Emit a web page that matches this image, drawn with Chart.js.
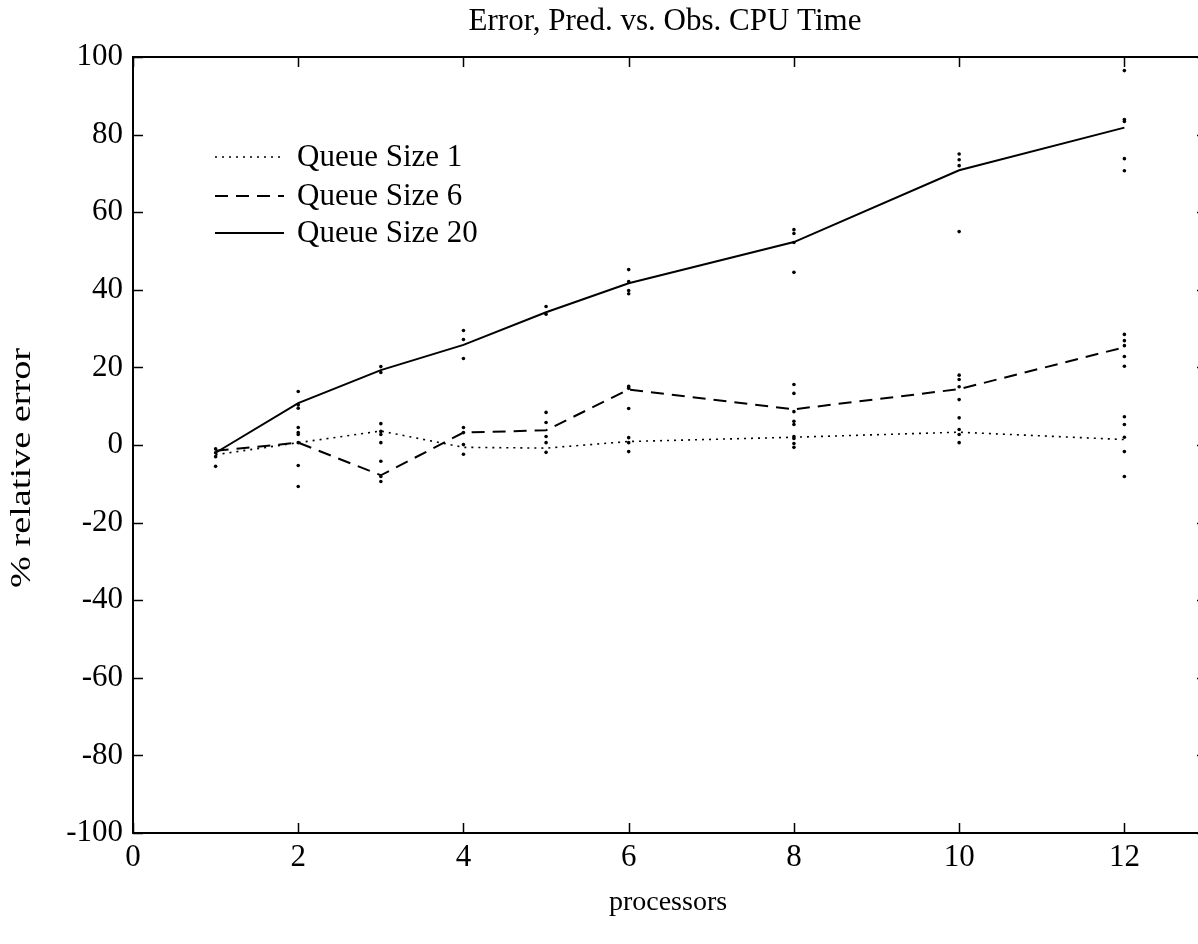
<!DOCTYPE html>
<html>
<head>
<meta charset="utf-8">
<script src="https://cdn.jsdelivr.net/npm/chart.js@4"></script>
<style>
html,body{margin:0;padding:0;background:#fff;overflow:hidden;}
#wrap{width:1220px;height:944px;position:relative;}
</style>
</head>
<body>
<div id="wrap"><canvas id="c" width="1220" height="944"></canvas></div>
<script>
const titleText = 'Error, Pred. vs. Obs. CPU Time';
const xTitle = 'processors';
const yTitle = '% relative error';
const processors = [1, 2, 3, 4, 5, 6, 8, 10, 12];
const queue1 = [-2.5, 0.6, 3.6, -0.6, -0.8, 0.9, 2.0, 3.3, 1.4];
const queue6 = [-1.5, 0.6, -7.8, 3.2, 3.8, 14.3, 9.2, 14.4, 25.2];
const queue20 = [-2.0, 10.8, 19.3, 25.8, 34.2, 41.7, 52.3, 70.8, 81.8];
const seriesLabels = ['Queue Size 1', 'Queue Size 6', 'Queue Size 20'];
const obsProc = [
  1,1,1,1,
  2,2,2,2,2,2,2,2,2,
  3,3,3,3,3,3,3,3,3,
  4,4,4,4,4,4,4,
  5,5,5,5,5,5,5,
  6,6,6,6,6,6,6,6,6,6,
  8,8,8,8,8,8,8,8,8,8,8,8,8,
  10,10,10,10,10,10,10,10,10,10,10,10,
  12,12,12,12,12,12,12,12,12,12,12,12,12,12,12
];
const obsErr = [
  -1, -2, -3, -5.5,
  13.8, 10.4, 9.5, 4.5, 3.2, 2.7, 0.6, -5.3, -10.7,
  20.2, 18.7, 5.5, 3.5, 2.7, 0.6, -4.2, -8.1, -9.4,
  29.5, 27.2, 22.3, 4.5, 3.2, 0.1, -2.4,
  35.7, 33.7, 8.4, 5.8, 2.2, 0.6, -1.9,
  45.2, 42.1, 39.8, 39, 15.1, 14.6, 9.4, 1.9, 0.6, -1.7,
  55.5, 54.5, 52.2, 44.5, 15.6, 13.3, 8.6, 6.1, 5.3, 2.2, 1.7, 0.4, -0.6,
  75, 73.5, 72, 55, 18, 16.9, 15, 11.7, 7, 4, 2.7, 0.6,
  96.5, 83.9, 83.4, 73.8, 70.7, 28.5, 26.9, 25.6, 22.8, 20.3, 7.3, 5.3, 2, -1.7, -8.1
];
const xTicks = [0, 2, 4, 6, 8, 10, 12];
const yTicks = [-100, -80, -60, -40, -20, 0, 20, 40, 60, 80, 100];
const xMin = 0, xMax = 13, yMin = -100, yMax = 100;

const FONT = "'Liberation Serif', 'Times New Roman', serif";

const toXY = (xs, ys) => xs.map((x, i) => ({x: x, y: ys[i]}));

const framePlugin = {
  id: 'frame',
  afterDraw(chart) {
    const ctx = chart.ctx;
    const a = chart.chartArea;
    const xs = chart.scales.x, ys = chart.scales.y;
    ctx.save();
    ctx.strokeStyle = '#000';
    ctx.lineWidth = 2;
    ctx.strokeRect(a.left, a.top, a.right - a.left, a.bottom - a.top);
    ctx.lineWidth = 1.5;
    const tl = 10;
    xTicks.forEach(v => {
      const px = Math.round(xs.getPixelForValue(v)) + 0.5;
      ctx.beginPath();
      ctx.moveTo(px, a.bottom); ctx.lineTo(px, a.bottom - tl);
      ctx.moveTo(px, a.top); ctx.lineTo(px, a.top + tl);
      ctx.stroke();
    });
    yTicks.forEach(v => {
      const py = Math.round(ys.getPixelForValue(v)) + 0.5;
      ctx.beginPath();
      ctx.moveTo(a.left, py); ctx.lineTo(a.left + tl, py);
      ctx.moveTo(a.right, py); ctx.lineTo(a.right - tl, py);
      ctx.stroke();
    });
    // titles
    ctx.fillStyle = '#000';
    ctx.textAlign = 'center';
    ctx.textBaseline = 'middle';
    ctx.font = '31px ' + FONT;
    ctx.fillText(titleText, 665, 22);
    ctx.font = '28px ' + FONT;
    ctx.fillText(xTitle, 668, 903);
    ctx.save();
    ctx.font = '30px ' + FONT;
    const w = ctx.measureText(yTitle).width;
    ctx.translate(22, 468);
    ctx.rotate(-Math.PI / 2);
    ctx.scale(Math.max(1, 240 / w), 1);
    ctx.fillText(yTitle, 0, 0);
    ctx.restore();
    // legend
    const legY = [157, 196, 233];
    ctx.textAlign = 'left';
    ctx.font = '31px ' + FONT;
    for (let i = 0; i < 3; i++) {
      const ds = chart.data.datasets[i];
      ctx.save();
      ctx.strokeStyle = '#000';
      ctx.lineWidth = ds.borderWidth;
      ctx.setLineDash(ds.borderDash || []);
      ctx.beginPath();
      ctx.moveTo(215, legY[i]); ctx.lineTo(284, legY[i]);
      ctx.stroke();
      ctx.restore();
      ctx.fillText(ds.label, 297, legY[i] + 1);
    }
    ctx.restore();
  }
};

new Chart(document.getElementById('c'), {
  type: 'scatter',
  data: {
    datasets: [
      {label: seriesLabels[0], data: toXY(processors, queue1), showLine: true, borderColor: '#000', borderWidth: 1.6, borderDash: [2, 5], pointRadius: 0, fill: false},
      {label: seriesLabels[1], data: toXY(processors, queue6), showLine: true, borderColor: '#000', borderWidth: 2, borderDash: [13, 8], pointRadius: 0, fill: false},
      {label: seriesLabels[2], data: toXY(processors, queue20), showLine: true, borderColor: '#000', borderWidth: 2, pointRadius: 0, fill: false},
      {label: 'obs', data: toXY(obsProc, obsErr), showLine: false, pointRadius: 1.8, backgroundColor: '#000', borderColor: '#000', borderWidth: 0}
    ]
  },
  options: {
    responsive: false,
    animation: false,
    events: [],
    layout: {padding: {left: 0, right: 13, top: 57, bottom: 0}},
    plugins: {legend: {display: false}, tooltip: {enabled: false}, title: {display: false}},
    scales: {
      x: {
        type: 'linear', min: xMin, max: xMax,
        grid: {display: false, drawTicks: false},
        border: {display: false},
        afterBuildTicks: s => { s.ticks = xTicks.map(v => ({value: v})); },
        afterFit: s => { s.height = 111; },
        ticks: {color: '#000', font: {family: FONT, size: 31}, padding: 6, maxRotation: 0, autoSkip: false}
      },
      y: {
        type: 'linear', min: yMin, max: yMax,
        grid: {display: false, drawTicks: false},
        border: {display: false},
        afterBuildTicks: s => { s.ticks = yTicks.map(v => ({value: v})); },
        afterFit: s => { s.width = 133; },
        ticks: {color: '#000', font: {family: FONT, size: 31}, padding: 10, autoSkip: false}
      }
    }
  },
  plugins: [framePlugin]
});
</script>
</body>
</html>
